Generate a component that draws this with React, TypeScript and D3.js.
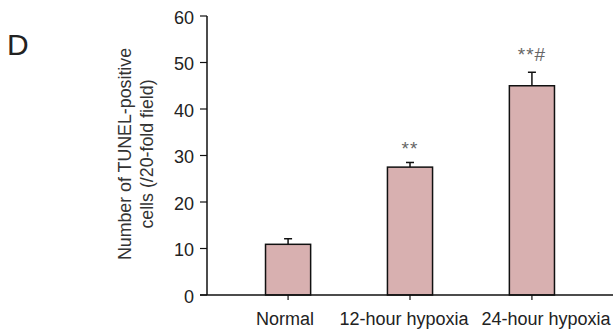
import React from "react";
import * as d3 from "d3";

// values
const groups = ["Normal", "12-hour hypoxia", "24-hour hypoxia"];
const means = [10.9, 27.5, 45.0];
const errors = [1.2, 1.0, 2.9];
const marks = ["", "**", "**#"];
const yTicks = [0, 10, 20, 30, 40, 50, 60];

const width = 614;
const height = 329;
const margin = { top: 16, right: 1, bottom: 34, left: 207 };

// the category labels sit a little off their ticks in the original
const labelShift = [-3, -6, 14];
const markGap = [0, 7, 11];

export default function App() {
  const x = d3
    .scaleBand()
    .domain(groups)
    .range([margin.left, width - margin.right])
    .paddingInner(0.63)
    .paddingOuter(0.48);

  const y = d3
    .scaleLinear()
    .domain([0, 60])
    .range([height - margin.bottom, margin.top]);

  const y0 = y(0);
  const font = "Arial, 'Liberation Sans', sans-serif";

  return (
    <svg
      width={width}
      height={height}
      style={{ position: "absolute", left: 0, top: 0, background: "#fff" }}
      fontFamily={font}
    >
      <text x={7} y={55} fontSize={30} fill="#222">
        D
      </text>

      {/* bars */}
      {groups.map((g, i) => {
        const bx = x(g)!;
        const bw = x.bandwidth();
        const cx = bx + bw / 2;
        const top = y(means[i]);
        const errTop = y(means[i] + errors[i]);
        return (
          <g key={g}>
            <line x1={cx} x2={cx} y1={top} y2={errTop} stroke="#111" strokeWidth={1.5} />
            <line x1={cx - 4} x2={cx + 4} y1={errTop} y2={errTop} stroke="#111" strokeWidth={1.5} />
            <rect
              x={bx}
              y={top}
              width={bw}
              height={y0 - top}
              fill="#d8b0b0"
              stroke="#111"
              strokeWidth={1.5}
            />
            {marks[i] && (
              <text
                x={cx}
                y={errTop - markGap[i]}
                textAnchor="middle"
                fontSize={19}
                letterSpacing={1}
                fill="#666"
              >
                {marks[i]}
              </text>
            )}
          </g>
        );
      })}

      {/* y axis */}
      <line x1={margin.left} x2={margin.left} y1={y(60)} y2={y0} stroke="#111" strokeWidth={1.5} />
      {yTicks.map((t) => (
        <g key={t} transform={`translate(${margin.left}, ${y(t)})`}>
          <line x1={-7} x2={0} stroke="#111" strokeWidth={1.2} />
          <text x={-13} dy="0.42em" textAnchor="end" fontSize={18} fill="#222">
            {t}
          </text>
        </g>
      ))}

      {/* x axis */}
      <line x1={margin.left - 7} x2={width - margin.right} y1={y0} y2={y0} stroke="#111" strokeWidth={1.5} />
      {groups.map((g, i) => {
        const cx = x(g)! + x.bandwidth() / 2;
        return (
          <g key={g} transform={`translate(${cx}, ${y0})`}>
            <line y1={0} y2={5} stroke="#111" strokeWidth={1.2} />
            <text x={labelShift[i]} y={30} textAnchor="middle" fontSize={18} fill="#222">
              {g}
            </text>
          </g>
        );
      })}

      {/* y axis title */}
      <g transform={`translate(131, 154) rotate(-90)`}>
        <text textAnchor="middle" fontSize={17.8} fill="#333">
          <tspan x={0} dy={0}>Number of TUNEL-positive</tspan>
          <tspan x={0} dy={22}>cells (/20-fold field)</tspan>
        </text>
      </g>
    </svg>
  );
}
